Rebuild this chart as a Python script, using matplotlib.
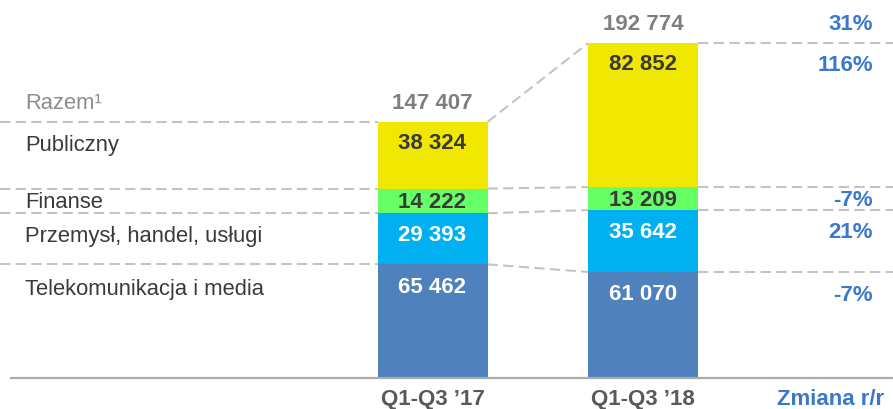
import matplotlib
matplotlib.use('Agg')
from matplotlib import pyplot as plt  # noqa

# data
periods = ["Q1-Q3 \u201917", "Q1-Q3 \u201918"]
sectors = ["Telekomunikacja i media", "Przemys\u0142, handel, us\u0142ugi",
           "Finanse", "Publiczny"]
telekom = [65462, 61070]
przemysl = [29393, 35642]
finanse = [14222, 13209]
publiczny = [38324, 82852]
totals = [147407, 192774]
changes = ["-7%", "21%", "-7%", "116%"]
total_change = "31%"

COLORS = ["#4F81BD", "#00B0F0", "#66FF66", "#F0E800"]
TEXT_COLORS = ["white", "white", "#3A3A3A", "#3A3A3A"]
DASH = "#C4C4C4"
BLUE = "#3A78CC"
FONT = "Liberation Sans"

W, H = 893, 410
BASE_PX = 379
k = 147407 / 256.0  # data units per pixel

fig = plt.figure(figsize=(W / 100, H / 100), dpi=100)
ax = fig.add_axes([0, 0, 1, 1])
ax.set_xlim(0, W)
ax.set_ylim(-(H - BASE_PX) * k, BASE_PX * k)
ax.axis('off')

xs = [432.5, 643]
bw = 110
series = [telekom, przemysl, finanse, publiczny]

bottoms = [0, 0]
tops = []  # per series, per bar
for s, col in zip(series, COLORS):
    ax.bar(xs, s, width=bw, bottom=bottoms, color=col, linewidth=0)
    bottoms = [b + v for b, v in zip(bottoms, s)]
    tops.append(list(bottoms))

# dashed guide lines
dash_kw = dict(color=DASH, lw=1.5, dashes=(5, 2.5), zorder=0)
left1, right1 = xs[0] - bw / 2, xs[0] + bw / 2
left2, right2 = xs[1] - bw / 2, xs[1] + bw / 2
for t in tops:
    ax.plot([0, left1], [t[0], t[0]], **dash_kw)
    ax.plot([right1, left2], [t[0], t[1]], **dash_kw)
    ax.plot([right2, W], [t[1], t[1]], **dash_kw)

# baseline
ax.plot([10, W], [0, 0], color="#ABABAB", lw=1.6, solid_capstyle='butt')

# segment labels (offset below segment top, green one centred)
offsets = [-22, -21, None, -20]
for i, s in enumerate(series):
    for j in range(2):
        if offsets[i] is None:
            y = tops[i][j] - s[j] / 2
            off = -1
        else:
            y = tops[i][j]
            off = offsets[i]
        ax.annotate(f"{s[j]:,}".replace(",", " "), (xs[j], y),
                    xytext=(0, off), textcoords='offset pixels',
                    ha='center', va='center', fontsize=16,
                    fontweight='bold', color=TEXT_COLORS[i], family=FONT)

# totals
for j in range(2):
    ax.annotate(f"{totals[j]:,}".replace(",", " "), (xs[j], tops[-1][j]),
                xytext=(0, 20), textcoords='offset pixels',
                ha='center', va='center', fontsize=16,
                fontweight='bold', color="#7F7F7F", family=FONT)

# left sector labels
left_off = [-24, -22, -13, -22]
for i, name in enumerate(sectors):
    ax.annotate(name, (25, tops[i][0]), xytext=(0, left_off[i]),
                textcoords='offset pixels', ha='left', va='center',
                fontsize=15.8, color="#3A3A3A", family=FONT)
ax.annotate("Razem\u00b9", (25, tops[-1][0]), xytext=(0, 20),
            textcoords='offset pixels', ha='left', va='center',
            fontsize=15.8, color="#8C8C8C", family=FONT)

# year-on-year changes
pct_off = [-23, -21, -1, -21]
for i, c in enumerate(changes):
    if i == 2:
        y = tops[i][1] - series[i][1] / 2
    else:
        y = tops[i][1]
    ax.annotate(c, (873, y), xytext=(0, pct_off[i]),
                textcoords='offset pixels', ha='right', va='center',
                fontsize=16, fontweight='bold', color=BLUE, family=FONT)
ax.annotate(total_change, (873, tops[-1][1]), xytext=(0, 20),
            textcoords='offset pixels', ha='right', va='center',
            fontsize=16, fontweight='bold', color=BLUE, family=FONT)

# category labels
for x, p in zip(xs, periods):
    ax.annotate(p, (x, 0), xytext=(0, -21), textcoords='offset pixels',
                ha='center', va='center', fontsize=16, fontweight='bold',
                color="#595959", family=FONT)
ax.annotate("Zmiana r/r", (831, 0), xytext=(0, -21),
            textcoords='offset pixels', ha='center', va='center',
            fontsize=16, fontweight='bold', color=BLUE, family=FONT)

fig.savefig("out.png", dpi=100)
